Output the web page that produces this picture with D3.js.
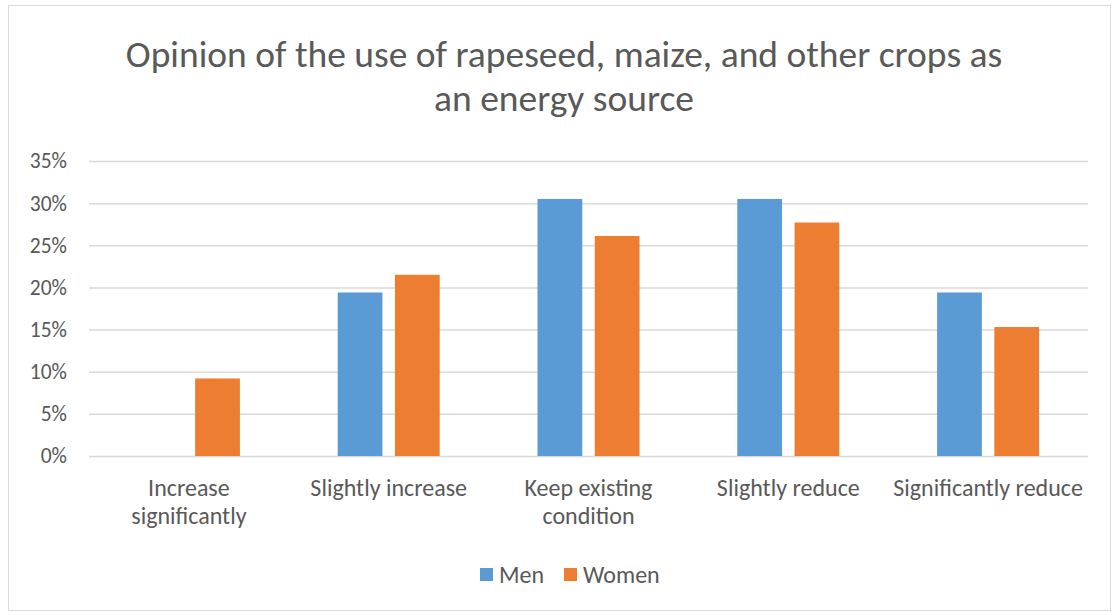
<!DOCTYPE html>
<html>
<head>
<meta charset="utf-8">
<script src="https://cdn.jsdelivr.net/npm/d3@7"></script>
<style>
  html, body { margin: 0; padding: 0; background: #fff; }
  svg { display: block; font-family: Carlito, Calibri, Lato, sans-serif; }
</style>
</head>
<body>
<svg id="chart" width="1117" height="615"></svg>
<script>
// Survey answers on using rapeseed, maize and other crops for energy
const categories = [
  ["Increase", "significantly"],
  ["Slightly increase"],
  ["Keep existing", "condition"],
  ["Slightly reduce"],
  ["Significantly reduce"]
];
const seriesNames = ["Men", "Women"];
const menValues   = [0, 19.4, 30.5, 30.5, 19.4];
const womenValues = [9.2, 21.5, 26.1, 27.7, 15.3];
const yTicks = [0, 5, 10, 15, 20, 25, 30, 35];
const colors = ["#5B9BD5", "#ED7D31"];
const titleLines = ["Opinion of the use of rapeseed, maize, and other crops as", "an energy source"];

const svg = d3.select("#chart");
const plot = { left: 89, right: 1088, top: 161, bottom: 456 };
const textColor = "#595959";

// chart frame
svg.append("rect")
  .attr("x", 8.5).attr("y", 5.5)
  .attr("width", 1102).attr("height", 605)
  .attr("fill", "#fff").attr("stroke", "#d9d9d9").attr("stroke-width", 1);

// title
svg.append("g").selectAll("text").data(titleLines).join("text")
  .attr("x", 564).attr("y", (d, i) => 67 + i * 44)
  .attr("text-anchor", "middle")
  .attr("font-size", 37.5)
  .attr("fill", textColor)
  .text(d => d);

const x = d3.scaleBand()
  .domain(d3.range(categories.length))
  .range([plot.left, plot.right])
  .paddingInner(0).paddingOuter(0);

const y = d3.scaleLinear().domain([0, 35]).range([plot.bottom, plot.top]);

// gridlines + y labels
const yAxis = d3.axisLeft(y)
  .tickValues(yTicks)
  .tickFormat(d => d + "%")
  .tickSize(-(plot.right - plot.left))
  .tickPadding(22);
const gy = svg.append("g").attr("transform", `translate(${plot.left},0)`).call(yAxis);
gy.select(".domain").remove();
gy.selectAll(".tick line").attr("stroke", "#d9d9d9").attr("stroke-width", 1.5);
gy.selectAll(".tick text")
  .attr("font-size", 21.5).attr("fill", textColor)
  .attr("font-family", "Carlito, Calibri, Lato, sans-serif");

// grouped bars
const barW = x.bandwidth() * 0.224;
const innerGap = x.bandwidth() * 0.0625;
const series = [menValues, womenValues];
series.forEach((vals, s) => {
  svg.append("g").selectAll("rect").data(vals).join("rect")
    .attr("x", (d, i) => x(i) + x.bandwidth() / 2 + (s === 0 ? -innerGap / 2 - barW : innerGap / 2))
    .attr("y", d => y(d))
    .attr("width", barW)
    .attr("height", d => y(0) - y(d))
    .attr("fill", colors[s]);
});

// category labels
const gx = svg.append("g");
categories.forEach((lines, i) => {
  gx.append("text")
    .attr("x", x(i) + x.bandwidth() / 2)
    .attr("y", 496)
    .attr("text-anchor", "middle")
    .attr("font-size", 24)
    .attr("fill", textColor)
    .selectAll("tspan").data(lines).join("tspan")
      .attr("x", x(i) + x.bandwidth() / 2)
      .attr("dy", (d, j) => j === 0 ? 0 : 28)
      .text(d => d);
});

// legend
const legend = svg.append("g").attr("transform", "translate(480,568)");
const legendItems = [{ name: seriesNames[0], x: 0 }, { name: seriesNames[1], x: 84 }];
legendItems.forEach((it, i) => {
  legend.append("rect").attr("x", it.x).attr("y", 0).attr("width", 13).attr("height", 13).attr("fill", colors[i]);
  legend.append("text").attr("x", it.x + 19).attr("y", 14.5)
    .attr("font-size", 24).attr("fill", textColor).text(it.name);
});
</script>
</body>
</html>
